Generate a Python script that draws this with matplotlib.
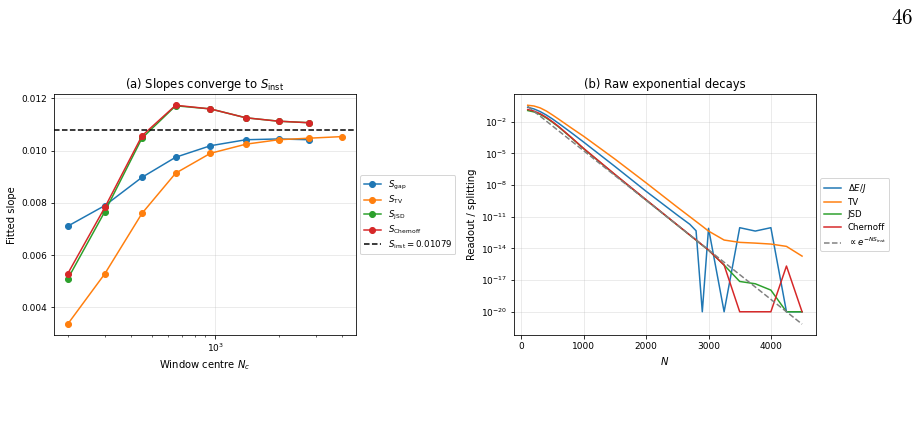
import numpy as np
import matplotlib
matplotlib.use("Agg")
import matplotlib.pyplot as plt
from matplotlib.ticker import NullLocator

# panel (a): fitted slopes vs window centre
Nc = [200, 300, 450, 650, 950, 1400, 2000, 2800, 4000]
S_gap = [0.00711, 0.00790, 0.00898, 0.00975, 0.01019, 0.01042, 0.01045, 0.01042]
S_tv = [0.00336, 0.00529, 0.00760, 0.00914, 0.00990, 0.01025, 0.01042, 0.01048, 0.01054]
S_jsd = [0.00509, 0.00767, 0.01048, 0.01172, 0.01160, 0.01126, 0.01113, 0.01107]
S_chern = [0.00529, 0.00783, 0.01057, 0.01174, 0.01160, 0.01126, 0.01113, 0.01107]
S_inst = 0.01079

# panel (b): raw decays, stored as log10 of the readout
N = [100, 200, 300, 400, 500, 600, 800, 1000, 1500, 2000, 2500, 2700, 2800,
     2900, 3000, 3250, 3500, 3750, 4000, 4250, 4500]
gap_log = [-0.64, -0.80, -1.05, -1.38, -1.76, -2.18, -3.05, -3.95, -6.25, -8.60,
           -10.85, -11.72, -12.33, -20.0, -12.10, -20.0, -12.04, -12.36, -12.04, -20.0, -20.0]
tv_log = [-0.45, -0.52, -0.70, -1.00, -1.38, -1.78, -2.60, -3.40, -5.55, -7.80,
          -10.10, -11.00, -11.45, -11.90, -12.36, -13.21, -13.43, -13.50, -13.59, -13.81, -14.73]
jsd_log = [-0.95, -1.08, -1.32, -1.66, -2.07, -2.52, -3.53, -4.58, -7.03, -9.43,
           -11.80, -12.75, -13.22, -13.70, -14.17, -15.58, -17.13, -17.35, -17.95, -20.0, -20.0]
chern_log = [-0.85, -1.00, -1.25, -1.60, -2.02, -2.48, -3.50, -4.55, -7.00, -9.40,
             -11.78, -12.73, -13.20, -13.68, -14.15, -15.58, -20.0, -20.0, -20.0, -15.67, -20.0]
N_ref = [100, 4500]
ref_log = [-0.55, -21.17]

plt.rcParams['font.size'] = 10
plt.rcParams['xtick.labelsize'] = 9
plt.rcParams['ytick.labelsize'] = 9
plt.rcParams['legend.fontsize'] = 8.6

fig = plt.figure(figsize=(920 / 72, 422 / 72), dpi=72)
ax1 = fig.add_axes([0.0587, 0.206, 0.328, 0.5705])
ax2 = fig.add_axes([0.5587, 0.206, 0.328, 0.5705])

ax1.plot(Nc[:len(S_gap)], S_gap, 'o-', color='C0', label=r'$S_{\rm gap}$')
ax1.plot(Nc, S_tv, 'o-', color='C1', label=r'$S_{\rm TV}$')
ax1.plot(Nc[:len(S_jsd)], S_jsd, 'o-', color='C2', label=r'$S_{\rm JSD}$')
ax1.plot(Nc[:len(S_chern)], S_chern, 'o-', color='C3', label=r'$S_{\rm Chernoff}$')
ax1.axhline(S_inst, color='k', ls='--', lw=1.5, label=r'$S_{\rm inst} = 0.01079$')
ax1.set_xscale('log')
ax1.set_xlabel(r'Window centre $N_c$')
ax1.set_ylabel('Fitted slope')
ax1.set_title(r'(a) Slopes converge to $S_{\rm inst}$', fontsize=11.6)
ax1.grid(True, alpha=0.3)
ax1.legend(loc='center left', bbox_to_anchor=(1.0, 0.5), labelspacing=0.25)

ax2.plot(N, 10.0 ** np.array(gap_log), color='C0', label=r'$\Delta E/J$')
ax2.plot(N, 10.0 ** np.array(tv_log), color='C1', label='TV')
ax2.plot(N, 10.0 ** np.array(jsd_log), color='C2', label='JSD')
ax2.plot(N, 10.0 ** np.array(chern_log), color='C3', label='Chernoff')
ax2.plot(N_ref, 10.0 ** np.array(ref_log), color='gray', ls='--', lw=1.5,
         label=r'$\propto e^{-N S_{\rm inst}}$')
ax2.set_yscale('log')
ax2.set_yticks([10.0 ** k for k in range(-20, 0, 3)])
ax2.yaxis.set_minor_locator(NullLocator())
ax2.set_xlabel(r'$N$')
ax2.set_ylabel('Readout / splitting')
ax2.set_title('(b) Raw exponential decays', fontsize=11.6)
ax2.grid(True, alpha=0.3)
ax2.legend(loc='center left', bbox_to_anchor=(1.0, 0.5), labelspacing=0.4)

fig.text(0.9924, 0.982, r'$46$', math_fontfamily='cm', fontsize=21,
         ha='right', va='top')

fig.savefig('out.png', dpi=72)
